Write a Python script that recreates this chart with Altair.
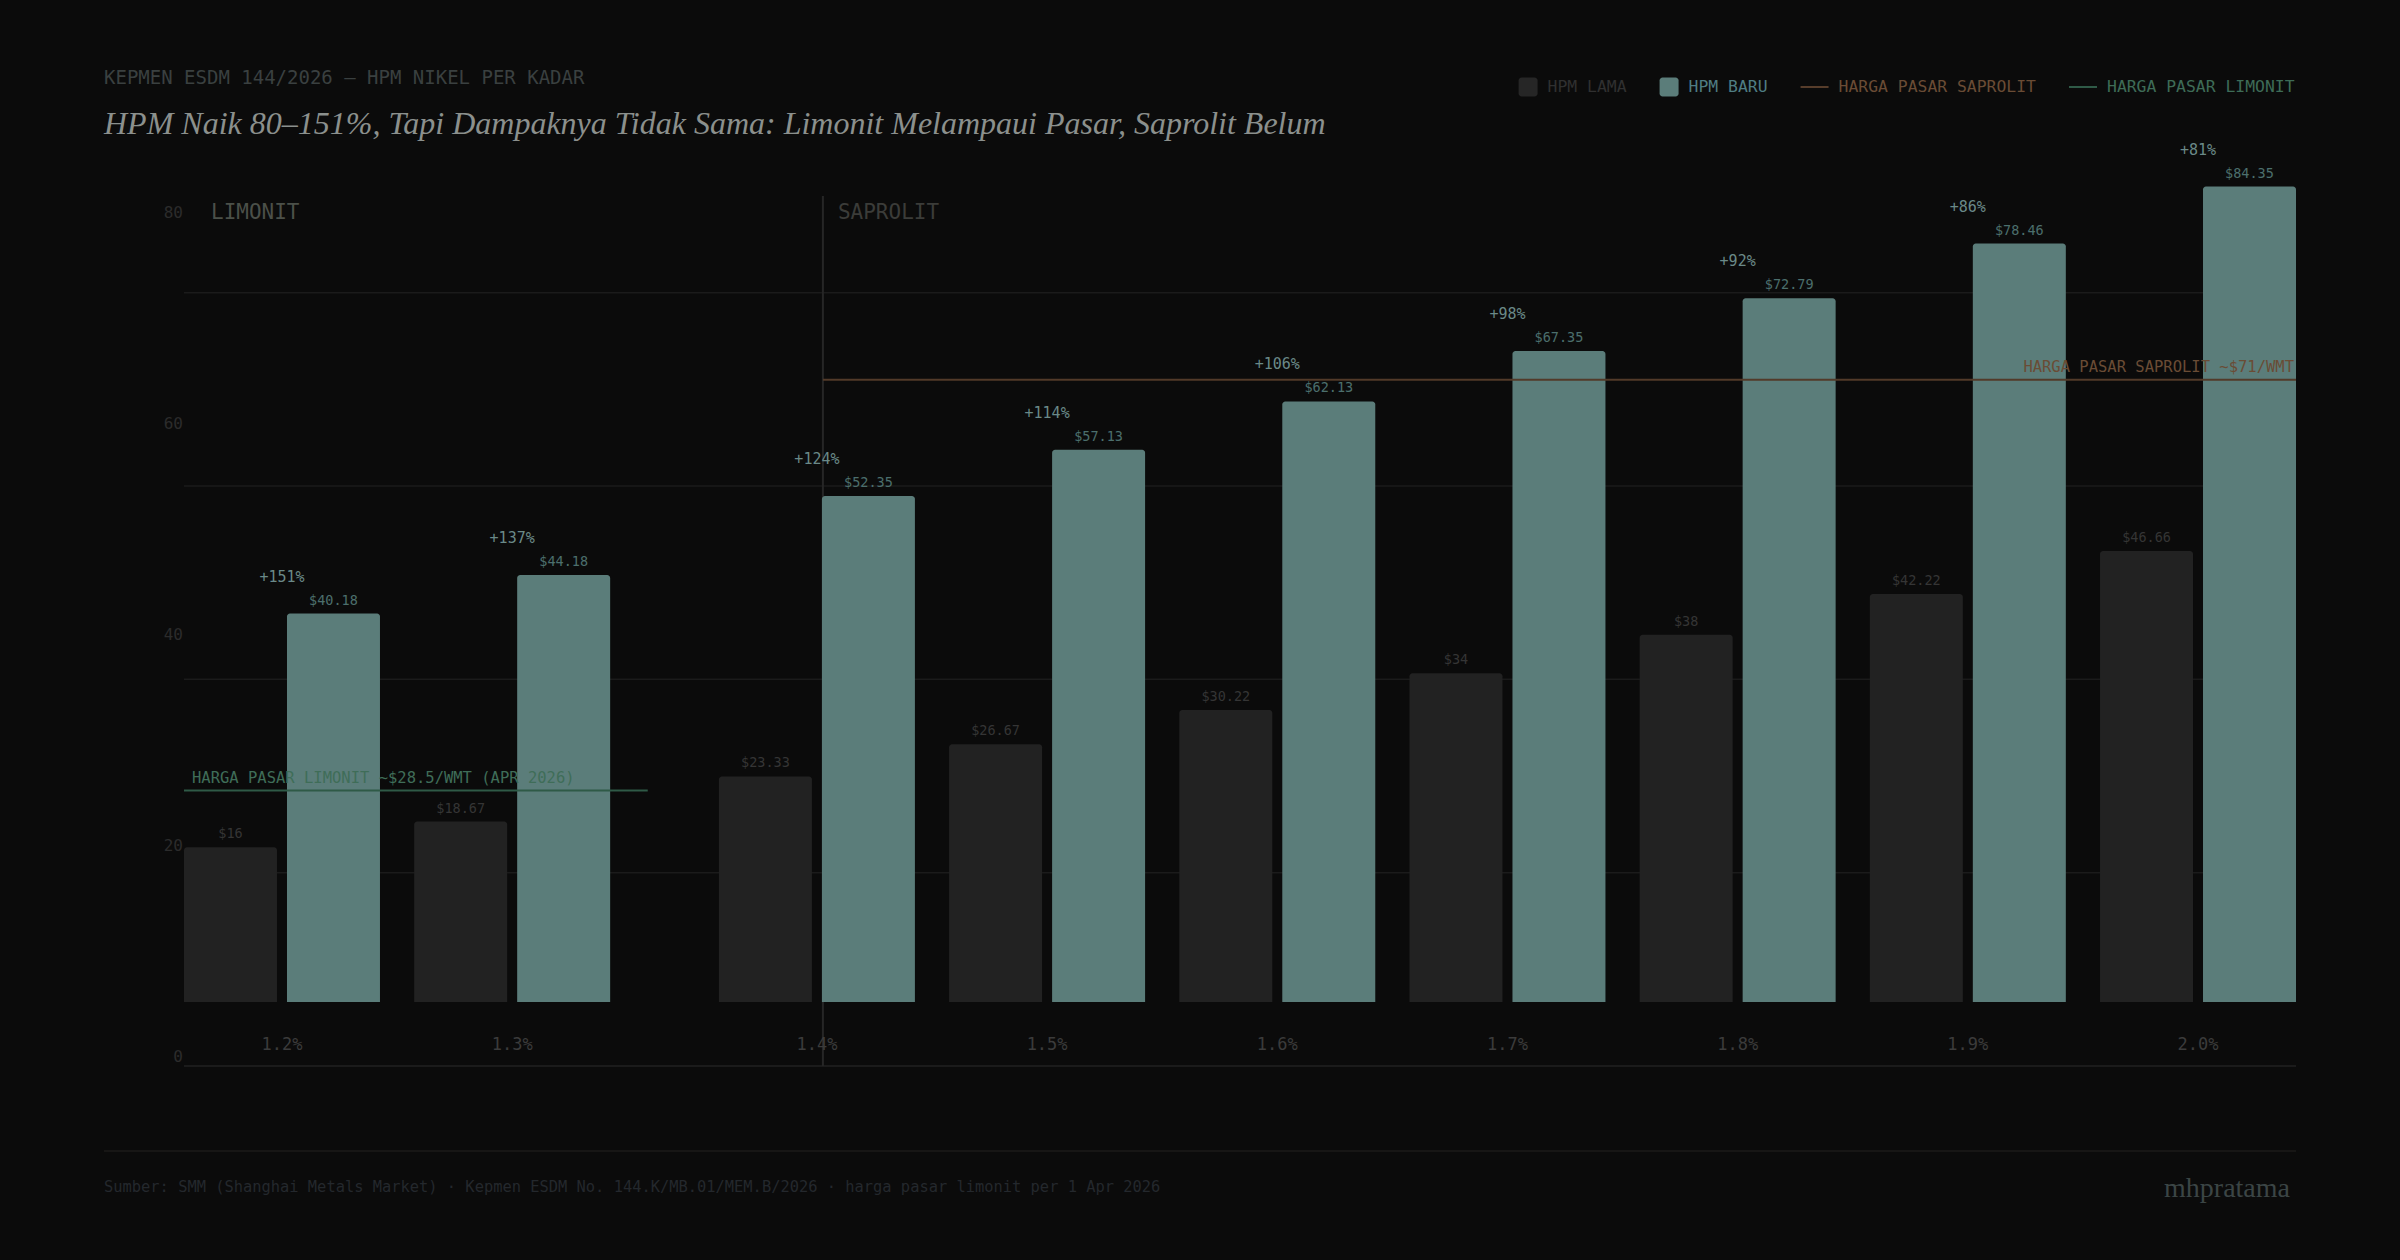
import altair as alt
import pandas as pd

# ---- data -------------------------------------------------------------
GRADES = ["1.2%", "1.3%", "1.4%", "1.5%", "1.6%", "1.7%", "1.8%", "1.9%", "2.0%"]
ORE_TYPE = ["LIMONIT", "LIMONIT", "SAPROLIT", "SAPROLIT", "SAPROLIT",
            "SAPROLIT", "SAPROLIT", "SAPROLIT", "SAPROLIT"]
HPM_LAMA = [16, 18.67, 23.33, 26.67, 30.22, 34, 38, 42.22, 46.66]
HPM_BARU = [40.18, 44.18, 52.35, 57.13, 62.13, 67.35, 72.79, 78.46, 84.35]
KENAIKAN = ["+151%", "+137%", "+124%", "+114%", "+106%", "+98%", "+92%", "+86%", "+81%"]

SERIES = ["HPM LAMA", "HPM BARU"]
Y_TICKS = [0, 20, 40, 60, 80]
GRID_LINES = [20, 40, 60, 80]

MARKET_NAMES = ["LIMONIT", "SAPROLIT"]
MARKET_PRICES = [28.5, 71]
MARKET_LABELS = ["HARGA PASAR LIMONIT ~$28.5/WMT (APR 2026)", "HARGA PASAR SAPROLIT ~$71/WMT"]

LEGEND_LABELS = ["HPM LAMA", "HPM BARU", "HARGA PASAR SAPROLIT", "HARGA PASAR LIMONIT"]
LEGEND_KIND = ["box", "box", "line", "line"]

SUBTITLE = "KEPMEN ESDM 144/2026 — HPM NIKEL PER KADAR"
TITLE = "HPM Naik 80–151%, Tapi Dampaknya Tidak Sama: Limonit Melampaui Pasar, Saprolit Belum"
SOURCE = ("Sumber: SMM (Shanghai Metals Market) · Kepmen ESDM No. 144.K/MB.01/MEM.B/2026 · "
          "harga pasar limonit per 1 Apr 2026")
SIGNATURE = "mhpratama"

# ---- style --------------------------------------------------------------
BG = "#0b0b0b"
MONO = "DejaVu Sans Mono"
SERIF = "Liberation Serif"
BAR_COLORS = ["#222222", "#5b7d7a"]
VALUE_COLORS = ["#353535", "#4c6f6d"]
PCT_COLOR = "#6a8988"
MARKET_LINE_COLORS = ["#2f5a47", "#523a29"]
MARKET_TEXT_COLORS = ["#3f6d58", "#6a4c35"]
LEGEND_SYMBOL_COLORS = ["#262626", "#5b7d7a", "#573d2b", "#2f5a47"]
LEGEND_TEXT_COLORS = ["#303030", "#4f7d83", "#6a4c35", "#3e6c57"]

PLOT_W, PLOT_H = 2112, 870
PAD = {"left": 184, "top": 196, "right": 104, "bottom": 194}

# x layout in "group slots": saprolit groups are pushed right by a gap
GROUP_GAP = 0.324
HALF = 0.4257      # half the width of a group (two bars)
INNER = 0.0217     # half the gap between the two bars of a group
X_DOMAIN = [-HALF, len(GRADES) - 1 + GROUP_GAP + HALF]
SEPARATOR = 2.35
LIMONIT_LINE_END = 1.589

X = alt.Scale(domain=X_DOMAIN, nice=False, zero=False)
BAR_Y = alt.Scale(domain=[-6.62, 83.38], nice=False, zero=False)
GRID_Y = alt.Scale(domain=[0, 90], nice=False, zero=False)
TICK_Y = alt.Scale(domain=[-0.901, 81.64], nice=False, zero=False)

# ---- tables -------------------------------------------------------------
slots = [i + (GROUP_GAP if ORE_TYPE[i] == "SAPROLIT" else 0) for i in range(len(GRADES))]

bar_rows = []
for i, g in enumerate(GRADES):
    s = slots[i]
    for series, val in zip(SERIES, (HPM_LAMA[i], HPM_BARU[i])):
        if series == "HPM LAMA":
            x0, x1 = s - HALF, s - INNER
        else:
            x0, x1 = s + INNER, s + HALF
        bar_rows.append({"grade": g, "series": series, "value": val,
                         "x0": x0, "x1": x1, "xc": (x0 + x1) / 2})
bars_df = pd.DataFrame(bar_rows)

groups_df = pd.DataFrame({"grade": GRADES, "slot": slots, "baru": HPM_BARU, "pct": KENAIKAN})

market_df = pd.DataFrame({
    "name": MARKET_NAMES, "price": MARKET_PRICES, "label": MARKET_LABELS,
    "start": [X_DOMAIN[0], SEPARATOR], "end": [LIMONIT_LINE_END, X_DOMAIN[1]],
})

# ---- plot layers --------------------------------------------------------
grid = alt.Chart(pd.DataFrame({"v": GRID_LINES})).mark_rule(
    color="#1b1b1b", strokeWidth=1.5
).encode(y=alt.Y("v:Q", scale=GRID_Y, axis=None))

baseline = alt.Chart(pd.DataFrame({"v": [0]})).mark_rule(
    color="#222222", strokeWidth=1.5
).encode(y=alt.Y("v:Q", scale=GRID_Y, axis=None))

separator = alt.Chart(pd.DataFrame({"s": [SEPARATOR]})).mark_rule(
    color="#262626", strokeWidth=2
).encode(x=alt.X("s:Q", scale=X, axis=None))

bars = alt.Chart(bars_df).mark_bar(
    cornerRadiusTopLeft=3, cornerRadiusTopRight=3
).encode(
    x=alt.X("x0:Q", scale=X, axis=None),
    x2="x1:Q",
    y=alt.Y("value:Q", scale=BAR_Y, axis=None),
    y2=alt.datum(0),
    color=alt.Color("series:N", scale=alt.Scale(domain=SERIES, range=BAR_COLORS), legend=None),
)

value_labels = alt.Chart(bars_df).mark_text(
    font=MONO, fontSize=13.5, baseline="middle", align="center", dy=-13
).transform_calculate(
    txt="'$' + datum.value"
).encode(
    x=alt.X("xc:Q", scale=X, axis=None),
    y=alt.Y("value:Q", scale=BAR_Y, axis=None),
    text="txt:N",
    color=alt.Color("series:N", scale=alt.Scale(domain=SERIES, range=VALUE_COLORS), legend=None),
)

pct_labels = alt.Chart(groups_df).mark_text(
    font=MONO, fontSize=15, baseline="middle", align="center", dy=-37, color=PCT_COLOR
).encode(
    x=alt.X("slot:Q", scale=X, axis=None),
    y=alt.Y("baru:Q", scale=BAR_Y, axis=None),
    text="pct:N",
)

market_lines = alt.Chart(market_df).mark_rule(strokeWidth=2).encode(
    x=alt.X("start:Q", scale=X, axis=None),
    x2="end:Q",
    y=alt.Y("price:Q", scale=GRID_Y, axis=None),
    color=alt.Color("name:N", scale=alt.Scale(domain=MARKET_NAMES, range=MARKET_LINE_COLORS), legend=None),
)

limonit_label = alt.Chart(market_df[market_df["name"] == "LIMONIT"]).mark_text(
    font=MONO, fontSize=15.5, align="left", baseline="middle", dx=8, dy=-13,
    color=MARKET_TEXT_COLORS[0]
).encode(
    x=alt.X("start:Q", scale=X, axis=None),
    y=alt.Y("price:Q", scale=GRID_Y, axis=None),
    text="label:N",
)

saprolit_label = alt.Chart(market_df[market_df["name"] == "SAPROLIT"]).mark_text(
    font=MONO, fontSize=15.5, align="right", baseline="middle", dx=-2, dy=-13,
    color=MARKET_TEXT_COLORS[1]
).encode(
    x=alt.X("end:Q", scale=X, axis=None),
    y=alt.Y("price:Q", scale=GRID_Y, axis=None),
    text="label:N",
)

x_ticks = alt.Chart(groups_df).mark_text(
    font=MONO, fontSize=17, align="center", baseline="middle", color="#3b3b3b"
).encode(
    x=alt.X("slot:Q", scale=X, axis=None),
    y=alt.value(849),
    text="grade:N",
)

y_ticks = alt.Chart(pd.DataFrame({"v": Y_TICKS})).mark_text(
    font=MONO, fontSize=16, align="right", baseline="middle", color="#2c2c2c"
).encode(
    x=alt.value(-1),
    y=alt.Y("v:Q", scale=TICK_Y, axis=None),
    text="v:N",
)

limonit_head = alt.Chart(pd.DataFrame({"t": ["LIMONIT"]})).mark_text(
    font=MONO, fontSize=21, align="left", baseline="middle", color="#4b5049"
).encode(x=alt.value(27), y=alt.value(17), text="t:N")

saprolit_head = alt.Chart(pd.DataFrame({"t": ["SAPROLIT"], "s": [SEPARATOR]})).mark_text(
    font=MONO, fontSize=21, align="left", baseline="middle", dx=15, color="#3b3c39"
).encode(x=alt.X("s:Q", scale=X, axis=None), y=alt.value(17), text="t:N")

# ---- header / footer ----------------------------------------------------
def text_layer(txt, x, y, **kw):
    return alt.Chart(pd.DataFrame({"t": [txt]})).mark_text(baseline="middle", **kw).encode(
        x=alt.value(x), y=alt.value(y), text="t:N")

subtitle = text_layer(SUBTITLE, -80, -118, font=MONO, fontSize=19, align="left", color="#3a4040")
title = text_layer(TITLE, -80, -72, font=SERIF, fontSize=32, fontStyle="italic",
                   align="left", color="#8b908d")

footer_rule = alt.Chart(pd.DataFrame({"v": [0]})).mark_rule(
    color="#1d1b1a", strokeWidth=1.5
).encode(x=alt.value(-80), x2=alt.value(PLOT_W), y=alt.value(955))

source = text_layer(SOURCE, -80, 991, font=MONO, fontSize=15.4, align="left", color="#24282d")
signature = text_layer(SIGNATURE, 2106, 993, font=SERIF, fontSize=28, align="right", color="#3b4545")

# legend laid out left to right from the label lengths
legend_layers = []
legend_font = 16.4
char_w = 0.602 * legend_font
cursor = 1334.6
legend_y = -109
for lab, kind, sc, tc in zip(LEGEND_LABELS, LEGEND_KIND, LEGEND_SYMBOL_COLORS, LEGEND_TEXT_COLORS):
    one = pd.DataFrame({"t": [lab]})
    if kind == "box":
        sym_w = 19
        legend_layers.append(
            alt.Chart(one).mark_rect(color=sc, cornerRadius=3).encode(
                x=alt.value(cursor), x2=alt.value(cursor + sym_w),
                y=alt.value(legend_y - 9.5), y2=alt.value(legend_y + 9.5)))
    else:
        sym_w = 28
        legend_layers.append(
            alt.Chart(one).mark_rule(color=sc, strokeWidth=2).encode(
                x=alt.value(cursor), x2=alt.value(cursor + sym_w), y=alt.value(legend_y)))
    tx = cursor + sym_w + 10
    legend_layers.append(
        alt.Chart(one).mark_text(font=MONO, fontSize=legend_font, align="left", baseline="middle",
                                 color=tc).encode(
            x=alt.value(tx), y=alt.value(legend_y), text="t:N"))
    cursor = tx + len(lab) * char_w + 33

chart = alt.layer(
    grid, baseline, separator, bars, value_labels, pct_labels,
    market_lines, limonit_label, saprolit_label,
    x_ticks, y_ticks, limonit_head, saprolit_head,
    subtitle, title, footer_rule, source, signature,
    *legend_layers,
).resolve_scale(
    y="independent", color="independent"
).properties(
    width=PLOT_W, height=PLOT_H, padding=PAD,
    autosize=alt.AutoSizeParams(type="none"),
).configure(
    background=BG
).configure_view(
    stroke=None
)

chart.save("out.html", embed_options={"renderer": "svg", "actions": False})
